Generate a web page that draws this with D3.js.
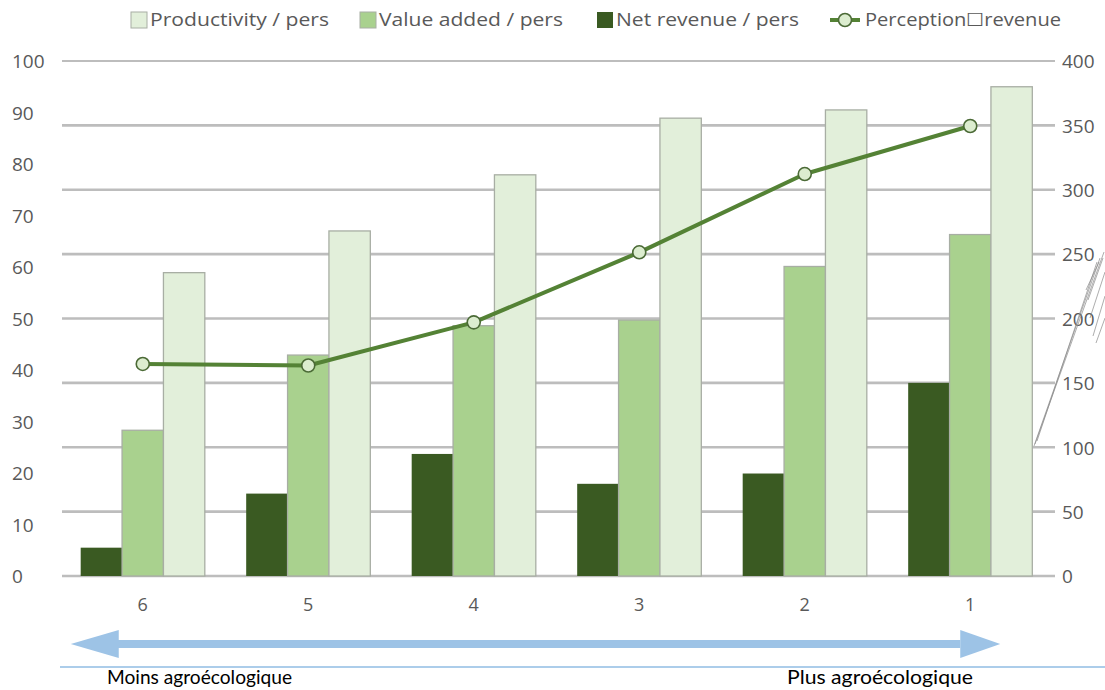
<!DOCTYPE html>
<html>
<head>
<meta charset="utf-8">
<script src="https://cdn.jsdelivr.net/npm/d3@7"></script>
<style>
  html, body { margin: 0; padding: 0; background: #fff; }
  svg { display: block; }
  text { font-family: "Open Sans", Lato, sans-serif; }
</style>
</head>
<body>
<svg id="chart" width="1105" height="690"></svg>
<script>
// Groups ordered from least to most agroecological
const categories = ["6", "5", "4", "3", "2", "1"];

// Bar series (left axis, 0–100)
const netRevenue   = [5.5, 16.0, 23.7, 17.9, 19.9, 37.5];
const valueAdded   = [28.3, 42.9, 48.6, 49.7, 60.1, 66.3];
const productivity = [58.9, 67.0, 77.9, 88.9, 90.5, 95.0];

// Line series (right axis, 0–400)
const perception = [164.7, 163.5, 197.0, 251.4, 312.2, 349.5];

const leftTicks  = [0, 10, 20, 30, 40, 50, 60, 70, 80, 90, 100];
const rightTicks = [0, 50, 100, 150, 200, 250, 300, 350, 400];

const seriesNames = ["Productivity / pers", "Value added / pers", "Net revenue / pers", "Perception\u2610revenue"];

const colors = {
  net: "#3a5a22",
  va: "#a9d18e",
  prod: "#e2efda",
  line: "#548235",
  grid: "#bdbdbd",
  text: "#595959",
  barEdge: "#a8aea4"
};

const svg = d3.select("#chart");

const x0 = d3.scaleBand().domain(categories).range([60, 1053])
  .paddingInner(0.25).paddingOuter(0.125);
const barKeys = ["net", "va", "prod"];
const x1 = d3.scaleBand().domain(barKeys).range([0, x0.bandwidth()]);
const yL = d3.scaleLinear().domain([0, 100]).range([576, 61]);
const yR = d3.scaleLinear().domain([0, 400]).range([576, 61]);
const center = c => x0(c) + x0.bandwidth() / 2;

// Horizontal gridlines follow the secondary axis ticks
svg.append("g").selectAll("line").data(rightTicks).join("line")
  .attr("x1", 62).attr("x2", 1055)
  .attr("y1", d => yR(d)).attr("y2", d => yR(d))
  .attr("stroke", colors.grid).attr("stroke-width", d => d === 400 ? 2 : 2.6);

// Left axis labels
const leftAxis = d3.axisLeft(yL).tickValues(leftTicks).tickSize(0).tickPadding(0);
const gl = svg.append("g").attr("transform", "translate(12,0)").call(leftAxis);
gl.select(".domain").remove();
gl.selectAll("text").attr("text-anchor", "start").attr("x", 0)
  .attr("fill", colors.text).style("font-size", "19px").attr("dy", "0.36em");

// Right axis labels
const rightAxis = d3.axisRight(yR).tickValues(rightTicks).tickSize(0).tickPadding(0);
const gr = svg.append("g").attr("transform", "translate(1062,0)").call(rightAxis);
gr.select(".domain").remove();
gr.selectAll("text").attr("fill", colors.text).style("font-size", "19px").attr("dy", "0.36em");

// Category axis labels
const bottomAxis = d3.axisBottom(x0).tickSize(0).tickPadding(0);
const gb = svg.append("g").attr("transform", "translate(0,597)").call(bottomAxis);
gb.select(".domain").remove();
gb.selectAll("text").attr("fill", colors.text).style("font-size", "18px").attr("dy", "0.75em");

// Bars
const rows = categories.map((c, i) => ({
  cat: c,
  values: [
    { key: "net", v: netRevenue[i] },
    { key: "va", v: valueAdded[i] },
    { key: "prod", v: productivity[i] }
  ]
}));
const groups = svg.append("g").selectAll("g").data(rows).join("g")
  .attr("transform", d => `translate(${x0(d.cat)},0)`);
groups.selectAll("rect").data(d => d.values).join("rect")
  .attr("x", d => x1(d.key))
  .attr("width", x1.bandwidth())
  .attr("y", d => yL(d.v))
  .attr("height", d => yL(0) - yL(d.v))
  .attr("fill", d => colors[d.key])
  .attr("stroke", d => d.key === "net" ? "none" : colors.barEdge)
  .attr("stroke-width", 1.3);

// Perception line
const pts = categories.map((c, i) => [center(c), yR(perception[i])]);
svg.append("path")
  .attr("d", d3.line()(pts))
  .attr("fill", "none").attr("stroke", colors.line).attr("stroke-width", 4)
  .attr("stroke-linejoin", "round").attr("stroke-linecap", "round");
svg.append("g").selectAll("circle").data(pts).join("circle")
  .attr("cx", d => d[0]).attr("cy", d => d[1]).attr("r", 6.5)
  .attr("fill", "#dcedcf").attr("stroke", "#4b6a36").attr("stroke-width", 1.6);

// Legend
const legend = svg.append("g");
const legendItems = [
  { name: seriesNames[0], type: "rect", fill: colors.prod, x: 131, w: 179 },
  { name: seriesNames[1], type: "rect", fill: colors.va, x: 360, w: 184 },
  { name: seriesNames[2], type: "rect", fill: colors.net, x: 597, w: 183 },
  { name: seriesNames[3], type: "line", fill: "#dcedcf", x: 830, w: 196 }
];
legendItems.forEach(it => {
  let tx;
  if (it.type === "rect") {
    legend.append("rect").attr("x", it.x).attr("y", 12).attr("width", 16).attr("height", 16)
      .attr("fill", it.fill).attr("stroke", it.fill === colors.net ? "none" : colors.barEdge).attr("stroke-width", 1);
    tx = it.x + 19;
  } else {
    legend.append("line").attr("x1", it.x).attr("x2", it.x + 30).attr("y1", 20).attr("y2", 20)
      .attr("stroke", colors.line).attr("stroke-width", 4);
    legend.append("circle").attr("cx", it.x + 15).attr("cy", 20).attr("r", 6.5)
      .attr("fill", it.fill).attr("stroke", "#4b6a36").attr("stroke-width", 1.6);
    tx = it.x + 35;
  }
  legend.append("text").attr("x", tx).attr("y", 20).attr("dy", "0.36em")
    .attr("fill", colors.text).style("font-size", "18px")
    .attr("textLength", it.w).attr("lengthAdjust", "spacingAndGlyphs")
    .text(it.name);
});

// Stray hairlines near the right axis
const hair = [
  [1034, 446, 1100, 258], [1035, 444, 1104, 252], [1037, 441, 1097, 262],
  [1088, 300, 1103, 258], [1090, 318, 1105, 272], [1093, 336, 1105, 296],
  [1096, 343, 1105, 318], [1086, 290, 1099, 262]
];
svg.append("g").selectAll("line").data(hair).join("line")
  .attr("x1", d => d[0]).attr("y1", d => d[1]).attr("x2", d => d[2]).attr("y2", d => d[3])
  .attr("stroke", "#8a8a8a").attr("stroke-width", 0.7);

// Double-headed direction arrow under the categories
const arrowY = 644;
const ax0 = center("6") - 72, ax1 = center("1") + 30;
const arrow = svg.append("g").attr("fill", "#9dc3e6");
arrow.append("rect").attr("x", ax0 + 40).attr("y", arrowY - 4).attr("width", ax1 - ax0 - 80).attr("height", 8);
arrow.append("path").attr("d", `M${ax0},${arrowY} L${ax0 + 48},${arrowY - 14} L${ax0 + 48},${arrowY + 14} Z`);
arrow.append("path").attr("d", `M${ax1},${arrowY} L${ax1 - 40},${arrowY - 14} L${ax1 - 40},${arrowY + 14} Z`);

// Separator rule
svg.append("line").attr("x1", 60).attr("x2", 1105).attr("y1", 667).attr("y2", 667)
  .attr("stroke", "#5b9bd5").attr("stroke-width", 1.2);

svg.append("text").attr("x", 107).attr("y", 684).attr("fill", "#000")
  .style("font-family", "Lato, sans-serif").style("font-size", "19px")
  .attr("textLength", 185).attr("lengthAdjust", "spacingAndGlyphs")
  .text("Moins agroécologique");
svg.append("text").attr("x", 787).attr("y", 684).attr("fill", "#000")
  .style("font-family", "Lato, sans-serif").style("font-size", "19px")
  .attr("textLength", 186).attr("lengthAdjust", "spacingAndGlyphs")
  .text("Plus agroécologique");
</script>
</body>
</html>
